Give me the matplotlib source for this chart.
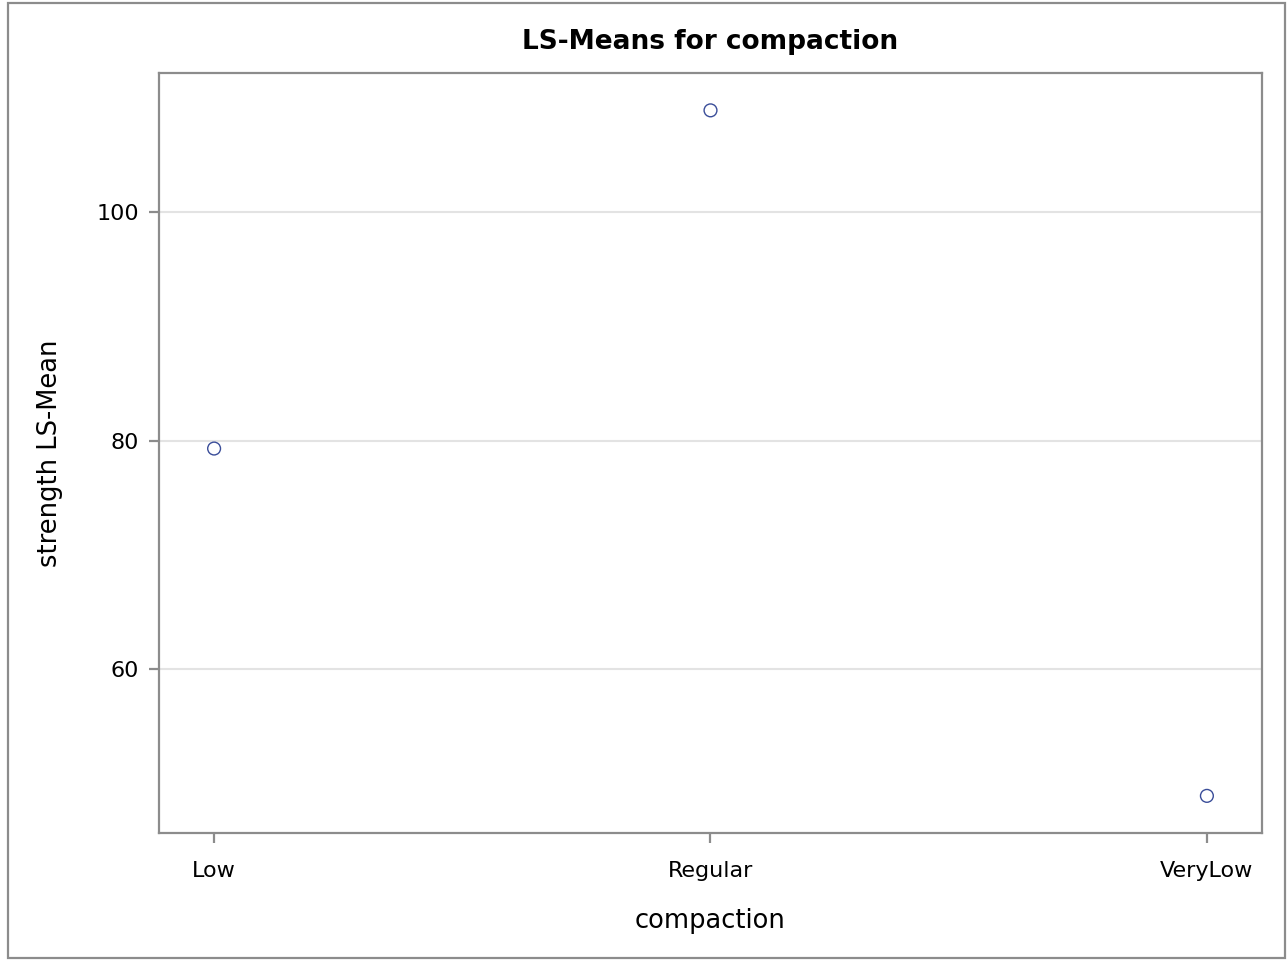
import matplotlib
matplotlib.use("Agg")
import matplotlib.pyplot as plt
from matplotlib.patches import Rectangle

categories = ["Low", "Regular", "VeryLow"]
ls_means = [79.3, 108.9, 48.9]
y_ticks = [60, 80, 100]

plt.rcParams['font.family'] = ['DejaVu Sans']

fig = plt.figure(figsize=(12.88, 9.6), dpi=100)
ax = fig.add_axes([159 / 1288, 127 / 960, 1103 / 1288, 760 / 960])

xpos = list(range(len(categories)))
ax.scatter(xpos, ls_means, s=85, facecolors='none', edgecolors='#3a4d99',
           linewidths=1.0, zorder=3)

ax.set_xlim(-0.111, 2.111)
ax.set_ylim(45.65, 112.17)
ax.set_xticks(xpos)
ax.set_xticklabels(categories)
ax.set_yticks(y_ticks)
ax.yaxis.grid(True, color='#e3e3e3', linewidth=1.5)
ax.set_axisbelow(True)

for sp in ax.spines.values():
    sp.set_color('#8c8c8c')
    sp.set_linewidth(1.6)
ax.tick_params(axis='both', colors='#8c8c8c', length=7.5, width=1.6,
               labelcolor='black', labelsize=16, pad=7)
ax.tick_params(axis='x', pad=13)

ax.set_xlabel("compaction", fontsize=18.5, labelpad=19)
ax.set_ylabel("strength LS-Mean", fontsize=18.5, labelpad=24)
ax.set_title("LS-Means for compaction", fontsize=19, fontweight='bold', pad=17)

# outer frame around the whole graph
fig.patches.append(Rectangle((8 / 1288, 2 / 960), 1277 / 1288, 955 / 960,
                             transform=fig.transFigure, fill=False,
                             edgecolor='#8c8c8c', linewidth=1.6))

fig.savefig("out.png", dpi=100)
